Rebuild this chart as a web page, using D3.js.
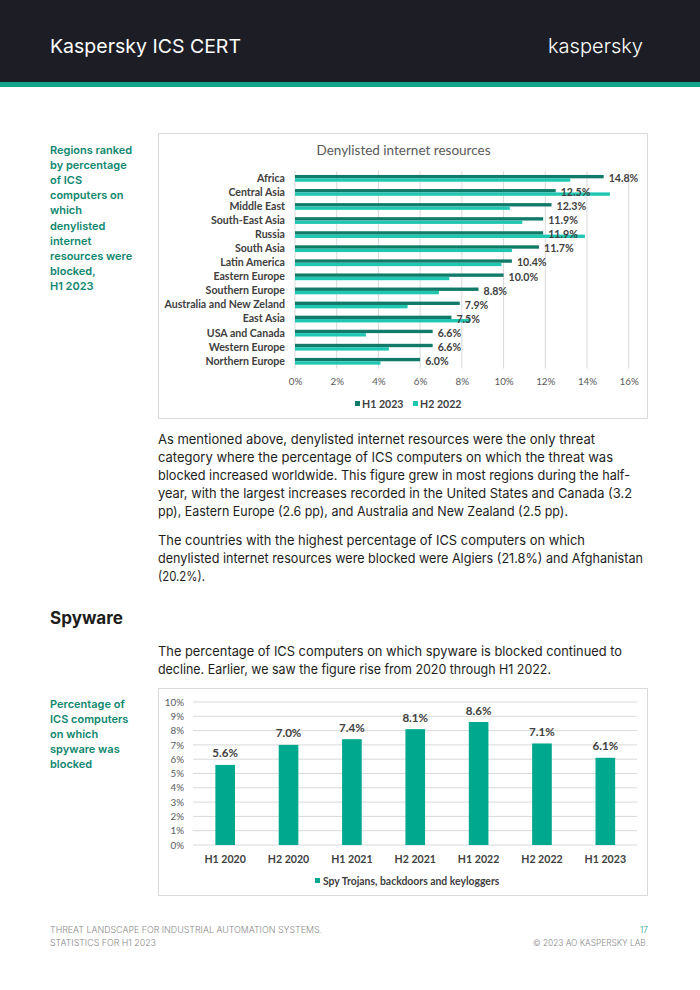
<!DOCTYPE html>
<html>
<head>
<meta charset="utf-8">
<script src="https://cdn.jsdelivr.net/npm/d3@7/dist/d3.min.js"></script>
<style>
  html, body { margin: 0; padding: 0; background: #fff; }
  svg { display: block; }
</style>
</head>
<body>
<div id="page"></div>
<script>
// ---------- Data ----------
const regions = ["Africa", "Central Asia", "Middle East", "South-East Asia", "Russia", "South Asia",
  "Latin America", "Eastern Europe", "Southern Europe", "Australia and New Zeland", "East Asia",
  "USA and Canada", "Western Europe", "Northern Europe"];
const h1_2023 = [14.8, 12.5, 12.3, 11.9, 11.9, 11.7, 10.4, 10.0, 8.8, 7.9, 7.5, 6.6, 6.6, 6.0];
const h2_2022 = [13.2, 15.1, 10.3, 10.9, 13.9, 10.4, 9.9, 7.4, 6.9, 5.4, 8.4, 3.4, 4.5, 4.1];
const seriesNames1 = ["H1 2023", "H2 2022"];
const xTicks1 = [0, 2, 4, 6, 8, 10, 12, 14, 16];

const periods = ["H1 2020", "H2 2020", "H1 2021", "H2 2021", "H1 2022", "H2 2022", "H1 2023"];
const spyware = [5.6, 7.0, 7.4, 8.1, 8.6, 7.1, 6.1];
const seriesName2 = "Spy Trojans, backdoors and keyloggers";
const yTicks2 = [0, 1, 2, 3, 4, 5, 6, 7, 8, 9, 10];

// ---------- Page ----------
const W = 700, H = 990;
const svg = d3.select("#page").append("svg").attr("width", W).attr("height", H);
const bodyFont = "Inter, 'Noto Sans', sans-serif";
const chartFont = "Lato, 'Open Sans', sans-serif";
const teal = "#00a88e";
const noteColor = "#10876f";
const textDark = "#1d1d1b";

// Header
svg.append("rect").attr("x", 0).attr("y", 0).attr("width", W).attr("height", 82).attr("fill", "#1d1e25");
svg.append("rect").attr("x", 0).attr("y", 82).attr("width", W).attr("height", 5).attr("fill", "#11a38c");
svg.append("text").attr("x", 50).attr("y", 53).attr("fill", "#fff")
  .attr("font-family", bodyFont).attr("font-size", 19).attr("font-weight", 400)
  .attr("textLength", 191).attr("lengthAdjust", "spacingAndGlyphs")
  .text("Kaspersky ICS CERT");
svg.append("text").attr("x", 548).attr("y", 53).attr("fill", "#fff")
  .attr("font-family", bodyFont).attr("font-size", 20).attr("font-weight", 300)
  .attr("textLength", 95).attr("lengthAdjust", "spacingAndGlyphs")
  .text("kaspersky");

// Side notes
function note(lines, y0) {
  const t = svg.append("text").attr("font-family", bodyFont).attr("font-size", 11)
    .attr("font-weight", 600).attr("fill", noteColor);
  lines.forEach((l, i) => t.append("tspan").attr("x", 50).attr("y", y0 + i * 15.1).text(l));
}
note(["Regions ranked", "by percentage", "of ICS", "computers on", "which", "denylisted",
  "internet", "resources were", "blocked,", "H1 2023"], 154);
note(["Percentage of", "ICS computers", "on which", "spyware was", "blocked"], 708);

// Body paragraphs: [text, baseline, width or null]
function para(lines) {
  lines.forEach(([txt, y, w]) => {
    const t = svg.append("text").attr("x", 158).attr("y", y).attr("fill", textDark)
      .attr("font-family", bodyFont).attr("font-size", 13.2).attr("font-weight", 400).text(txt);
    if (w) t.attr("textLength", w).attr("lengthAdjust", "spacingAndGlyphs");
  });
}
para([
  ["As mentioned above, denylisted internet resources were the only threat", 443.5, 437],
  ["category where the percentage of ICS computers on which the threat was", 461.8, 455],
  ["blocked increased worldwide. This figure grew in most regions during the half-", 480, 472],
  ["year, with the largest increases recorded in the United States and Canada (3.2", 498.2, 474],
  ["pp), Eastern Europe (2.6 pp), and Australia and New Zealand (2.5 pp).", 516.4, 410],
  ["The countries with the highest percentage of ICS computers on which", 544.5, 427],
  ["denylisted internet resources were blocked were Algiers (21.8%) and Afghanistan", 562.7, 485],
  ["(20.2%).", 580.9, 47],
  ["The percentage of ICS computers on which spyware is blocked continued to", 656, 464],
  ["decline. Earlier, we saw the figure rise from 2020 through H1 2022.", 674.2, 393]
]);

// Heading
svg.append("text").attr("x", 50).attr("y", 624).attr("fill", textDark)
  .attr("font-family", bodyFont).attr("font-size", 17).attr("font-weight", 700)
  .attr("textLength", 73).attr("lengthAdjust", "spacingAndGlyphs").text("Spyware");

// Footer
function foot(txt, x, y, anchor, w, color) {
  const t = svg.append("text").attr("x", x).attr("y", y).attr("text-anchor", anchor)
    .attr("fill", color || "#8a8a8a").attr("font-family", bodyFont).attr("font-size", 8.3)
    .attr("font-weight", 300).text(txt);
  if (w) t.attr("textLength", w).attr("lengthAdjust", "spacingAndGlyphs");
}
foot("THREAT LANDSCAPE FOR INDUSTRIAL AUTOMATION SYSTEMS.", 50, 933, "start", 272);
foot("STATISTICS FOR H1 2023", 50, 945.5, "start", 106);
foot("17", 648, 933, "end", null, "#11a38c");
foot("© 2023 AO KASPERSKY LAB.", 648, 945.5, "end", 115);

// ---------- Chart 1: horizontal grouped bars ----------
const c1 = { x: 158, y: 133, w: 490, h: 286 };
svg.append("rect").attr("x", c1.x + 0.5).attr("y", c1.y + 0.5).attr("width", c1.w - 1).attr("height", c1.h - 1)
  .attr("fill", "#fff").attr("stroke", "#d9d9d9");
svg.append("text").attr("x", 403.5).attr("y", 155).attr("text-anchor", "middle")
  .attr("font-family", chartFont).attr("font-size", 13.5).attr("fill", "#595959")
  .text("Denylisted internet resources");

const x1 = d3.scaleLinear().domain([0, 16]).range([295, 628.7]);
const y1 = d3.scaleBand().domain(regions).range([171.3, 368.3]).paddingInner(0.52).paddingOuter(0.26);
const sub1 = d3.scaleBand().domain(seriesNames1).range([0, y1.bandwidth()]).padding(0);
const colors1 = d3.scaleOrdinal().domain(seriesNames1).range(["#117a68", "#1fc6b1"]);

// grid
svg.append("g").selectAll("line").data(xTicks1).join("line")
  .attr("x1", d => x1(d)).attr("x2", d => x1(d))
  .attr("y1", 171).attr("y2", 368.5)
  .attr("stroke", "#d9d9d9").attr("stroke-width", 1);

// x axis labels via d3 axis
const ax1 = svg.append("g").attr("transform", "translate(0,368.5)")
  .call(d3.axisBottom(x1).tickValues(xTicks1).tickFormat(d => d + "%").tickSize(0).tickPadding(10));
ax1.select(".domain").remove();
ax1.selectAll("text").attr("font-family", chartFont).attr("font-size", 9.8).attr("fill", "#595959");

// bars
const rows = regions.map((r, i) => ({ r, vals: [h1_2023[i], h2_2022[i]] }));
const rg = svg.append("g").selectAll("g").data(rows).join("g")
  .attr("transform", d => `translate(0,${y1(d.r)})`);
rg.selectAll("rect").data(d => d.vals.map((v, k) => ({ s: seriesNames1[k], v }))).join("rect")
  .attr("x", x1(0)).attr("y", d => sub1(d.s)).attr("height", sub1.bandwidth())
  .attr("width", d => x1(d.v) - x1(0)).attr("fill", d => colors1(d.s));

// category labels
const ay1 = svg.append("g").attr("transform", "translate(285,0)")
  .call(d3.axisLeft(y1).tickSize(0).tickPadding(0));
ay1.select(".domain").remove();
ay1.selectAll("text").attr("font-family", chartFont).attr("font-size", 10.6).attr("font-weight", 700)
  .attr("fill", "#404040");

// value labels (H1 2023)
svg.append("g").selectAll("text").data(rows).join("text")
  .attr("x", d => x1(d.vals[0]) + 5)
  .attr("y", d => y1(d.r) + y1.bandwidth() / 2 + 3.7)
  .attr("font-family", chartFont).attr("font-size", 10.6).attr("font-weight", 700).attr("fill", "#404040")
  .text(d => d.vals[0].toFixed(1) + "%");

// legend
const leg1 = [{ s: seriesNames1[0], x: 355 }, { s: seriesNames1[1], x: 413 }];
leg1.forEach(l => {
  svg.append("rect").attr("x", l.x).attr("y", 401).attr("width", 5).attr("height", 5).attr("fill", colors1(l.s));
  svg.append("text").attr("x", l.x + 7).attr("y", 407.5).attr("font-family", chartFont)
    .attr("font-size", 10.6).attr("font-weight", 700).attr("fill", "#404040").text(l.s);
});

// ---------- Chart 2: vertical bars ----------
const c2 = { x: 158, y: 688, w: 490, h: 208 };
svg.append("rect").attr("x", c2.x + 0.5).attr("y", c2.y + 0.5).attr("width", c2.w - 1).attr("height", c2.h - 1)
  .attr("fill", "#fff").attr("stroke", "#d9d9d9");

const x2 = d3.scaleBand().domain(periods).range([193.5, 637]).paddingInner(0.69).paddingOuter(0.345);
const y2 = d3.scaleLinear().domain([0, 10]).range([845, 702]);

svg.append("g").selectAll("line").data(yTicks2).join("line")
  .attr("x1", 193).attr("x2", 637).attr("y1", d => y2(d)).attr("y2", d => y2(d))
  .attr("stroke", "#d9d9d9").attr("stroke-width", 1);

const ay2 = svg.append("g").attr("transform", "translate(184,0)")
  .call(d3.axisLeft(y2).tickValues(yTicks2).tickFormat(d => d + "%").tickSize(0).tickPadding(0));
ay2.select(".domain").remove();
ay2.selectAll("text").attr("font-family", chartFont).attr("font-size", 9.8).attr("fill", "#595959");

svg.append("g").selectAll("rect").data(periods).join("rect")
  .attr("x", d => x2(d)).attr("width", x2.bandwidth())
  .attr("y", (d, i) => y2(spyware[i])).attr("height", (d, i) => y2(0) - y2(spyware[i]))
  .attr("fill", teal);

svg.append("g").selectAll("text").data(periods).join("text")
  .attr("x", d => x2(d) + x2.bandwidth() / 2).attr("y", (d, i) => y2(spyware[i]) - 7.5)
  .attr("text-anchor", "middle").attr("font-family", chartFont).attr("font-size", 11.6)
  .attr("font-weight", 700).attr("fill", "#404040")
  .text((d, i) => spyware[i].toFixed(1) + "%");

const ax2 = svg.append("g").attr("transform", "translate(0,845)")
  .call(d3.axisBottom(x2).tickSize(0).tickPadding(10));
ax2.select(".domain").remove();
ax2.selectAll("text").attr("font-family", chartFont).attr("font-size", 10.6).attr("font-weight", 700)
  .attr("fill", "#404040");

svg.append("rect").attr("x", 315).attr("y", 878).attr("width", 5).attr("height", 5).attr("fill", teal);
svg.append("text").attr("x", 323).attr("y", 884.5).attr("font-family", chartFont).attr("font-size", 10.4)
  .attr("font-weight", 700).attr("fill", "#404040").text(seriesName2);
</script>
</body>
</html>
